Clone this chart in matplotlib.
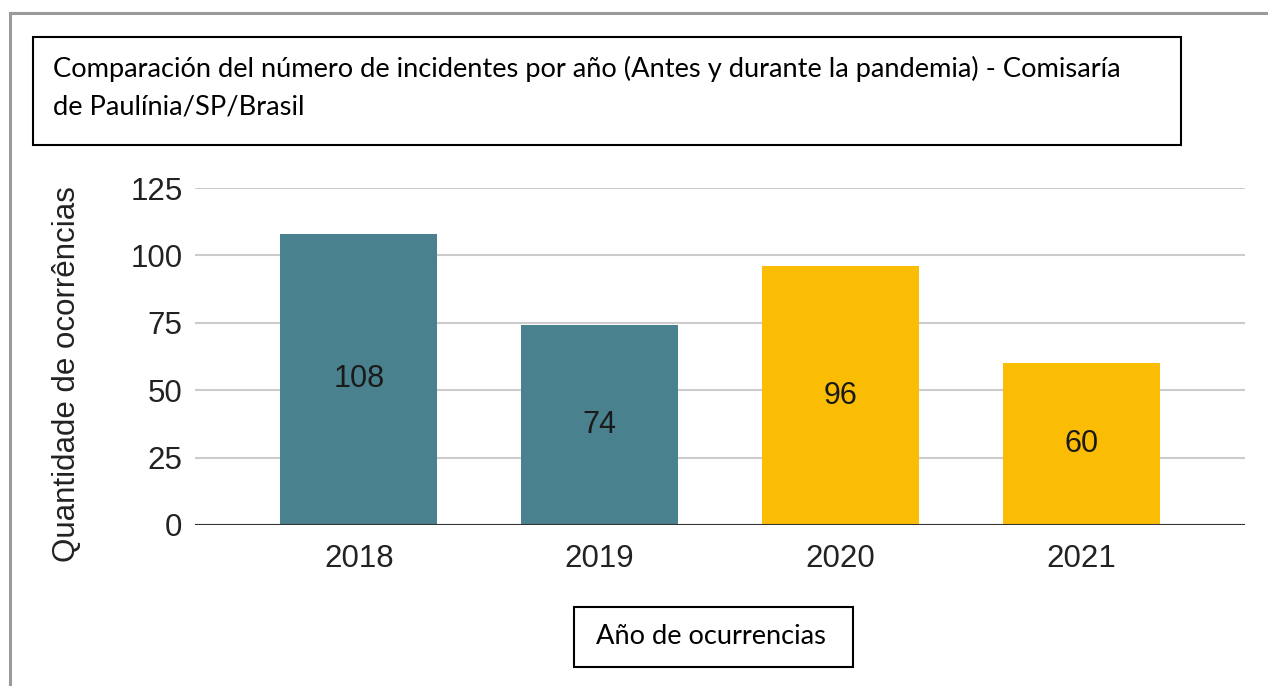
import matplotlib
matplotlib.use("Agg")
import matplotlib.pyplot as plt
from matplotlib.patches import Rectangle

years = ["2018", "2019", "2020", "2021"]
values = [108, 74, 96, 60]
colors = ["#4A818E", "#4A818E", "#FBBC04", "#FBBC04"]
yticks = [0, 25, 50, 75, 100, 125]
title = "Comparación del número de incidentes por año (Antes y durante la pandemia) - Comisaría\nde Paulínia/SP/Brasil"
xlabel = "Año de ocurrencias"
ylabel = "Quantidade de ocorrências"

W, H = 1268, 686
fig = plt.figure(figsize=(W / 100, H / 100), dpi=100)

# outer gray border (top and left)
fig.add_artist(plt.Line2D([10 / W, 1], [1 - 13 / H, 1 - 13 / H], color="#9a9a9a", lw=2.2))
fig.add_artist(plt.Line2D([10 / W, 10 / W], [0, 1 - 13 / H], color="#9a9a9a", lw=2.2))

# title box
fig.add_artist(Rectangle((33 / W, 1 - 145 / H), (1181 - 33) / W, (145 - 37) / H,
                         transform=fig.transFigure, fill=False, ec="black", lw=1.5))
fig.text(53 / W, 1 - 88 / H, title, fontsize=19.6, family="Lato", va="center", ha="left",
         linespacing=1.62)

# x-label box
fig.add_artist(Rectangle((574 / W, 1 - 667 / H), (853 - 574) / W, (667 - 607) / H,
                         transform=fig.transFigure, fill=False, ec="black", lw=1.5))
fig.text(711 / W, 1 - 637 / H, xlabel, fontsize=19.6, family="Lato", va="center", ha="center")

ax = fig.add_axes([195 / W, 1 - 525 / H, (1245 - 195) / W, (525 - 188) / H])
x = list(range(len(years)))
bars = ax.bar(x, values, width=0.65, color=colors, zorder=3)
for xi, v in zip(x, values):
    ax.text(xi, v / 2, str(v), ha="center", va="center", fontsize=22,
            family="Liberation Sans", color="#1a1a1a", zorder=4)

ax.set_xlim(-0.68, 3.68)
ax.set_ylim(0, 125)
ax.set_yticks(yticks)
ax.set_yticklabels([str(t) for t in yticks], family="Liberation Sans", fontsize=22.5)
ax.set_xticks(x)
ax.set_xticklabels(years, family="Liberation Sans", fontsize=22.5)
ax.grid(axis="y", color="#cccccc", lw=1.5, zorder=0)
ax.axhline(0, color="#333333", lw=1.5, zorder=5)
for s in ax.spines.values():
    s.set_visible(False)
ax.tick_params(axis="both", length=0, colors="#222222")
ax.tick_params(axis="y", pad=9)
ax.tick_params(axis="x", pad=14)
ax.set_ylabel(ylabel, family="Liberation Sans", fontsize=22.5, color="#222222")
ax.yaxis.set_label_coords(-0.108, 0.448)

fig.savefig("out.png", dpi=100, facecolor="white")
